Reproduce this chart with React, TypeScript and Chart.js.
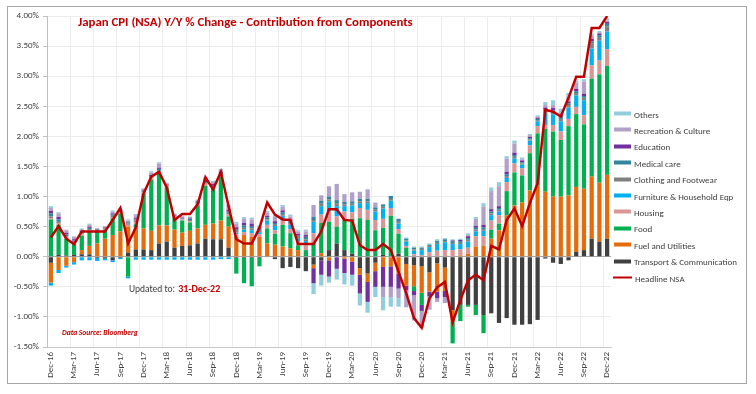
import React, { useEffect, useRef } from 'react';
import { Chart, registerables } from 'chart.js';

Chart.register(...registerables);

const months = [
  'Dec-16',
  'Jan-17','Feb-17','Mar-17','Apr-17','May-17','Jun-17','Jul-17','Aug-17','Sep-17','Oct-17','Nov-17','Dec-17',
  'Jan-18','Feb-18','Mar-18','Apr-18','May-18','Jun-18','Jul-18','Aug-18','Sep-18','Oct-18','Nov-18','Dec-18',
  'Jan-19','Feb-19','Mar-19','Apr-19','May-19','Jun-19','Jul-19','Aug-19','Sep-19','Oct-19','Nov-19','Dec-19',
  'Jan-20','Feb-20','Mar-20','Apr-20','May-20','Jun-20','Jul-20','Aug-20','Sep-20','Oct-20','Nov-20','Dec-20',
  'Jan-21','Feb-21','Mar-21','Apr-21','May-21','Jun-21','Jul-21','Aug-21','Sep-21','Oct-21','Nov-21','Dec-21',
  'Jan-22','Feb-22','Mar-22','Apr-22','May-22','Jun-22','Jul-22','Aug-22','Sep-22','Oct-22','Nov-22','Dec-22',
];

const transport = [
  -0.10, 0.03, 0.02, 0.03, 0.04, 0.04, -0.02, -0.03, -0.06, -0.02, 0.07, 0.12, 0.12,
  0.11, 0.22, 0.25, 0.15, 0.18, 0.19, 0.22, 0.30, 0.29, 0.29, 0.15, -0.02,
  -0.02, -0.02, -0.02, -0.01, -0.04, -0.19, -0.17, -0.19, -0.24, -0.13, -0.06, 0.11,
  0.22, 0.11, 0.05, -0.19, -0.28, -0.10, 0.03, 0.00, 0.05, -0.12, -0.14, -0.16,
  -0.26, -0.11, -0.18, -0.89, -0.80, -0.80, -0.80, -0.97, -0.94, -1.10, -1.02, -1.13,
  -1.13, -1.12, -1.05, -0.03, -0.10, -0.12, -0.06, 0.08, 0.11, 0.30, 0.25, 0.30,
];
const fuel = [
  -0.33, -0.22, -0.15, -0.09, 0.07, 0.14, 0.22, 0.30, 0.36, 0.42, 0.43, 0.36, 0.35,
  0.32, 0.30, 0.27, 0.30, 0.22, 0.24, 0.25, 0.23, 0.26, 0.31, 0.35, 0.33,
  0.36, 0.33, 0.33, 0.22, 0.20, 0.17, 0.14, 0.11, 0.00, -0.06, 0.06, -0.06,
  0.00, -0.03, -0.08, -0.11, -0.14, -0.14, -0.17, -0.16, -0.28, -0.36, -0.35, -0.44,
  -0.32, -0.47, -0.39, -0.19, 0.02, 0.05, 0.17, 0.18, 0.30, 0.44, 0.69, 0.85,
  0.90, 1.10, 1.18, 1.08, 1.00, 1.00, 1.02, 1.08, 1.02, 1.03, 0.98, 1.06,
];
const food = [
  0.62, 0.50, 0.28, 0.18, 0.24, 0.24, 0.20, 0.15, 0.28, 0.30, -0.33, 0.06, 0.58,
  0.85, 0.86, 0.63, 0.19, 0.20, 0.14, 0.38, 0.65, 0.58, 0.73, 0.17, -0.26,
  -0.42, -0.47, -0.14, 0.25, 0.18, 0.36, 0.25, 0.08, 0.11, 0.22, 0.50, 0.47,
  0.28, 0.50, 0.58, 0.64, 0.61, 0.44, 0.45, 0.68, 0.33, 0.15, -0.08, -0.20,
  0.00, 0.00, 0.00, -0.36, -0.27, -0.03, -0.17, -0.30, 0.15, 0.11, 0.40, 0.55,
  0.45, 0.62, 0.87, 1.05, 1.08, 0.94, 1.15, 1.21, 1.07, 1.63, 1.80, 1.81,
];
const housing = [
  0.02, 0.02, 0.02, 0.02, 0.02, 0.02, 0.01, 0.01, 0.02, 0.02, 0.03, 0.03, 0.02,
  0.02, 0.03, 0.02, 0.02, 0.02, 0.02, 0.02, 0.02, 0.02, 0.02, 0.03, 0.04,
  0.05, 0.06, 0.04, 0.06, 0.06, 0.07, 0.07, 0.06, 0.08, 0.17, 0.14, 0.17,
  0.17, 0.14, 0.11, 0.17, 0.17, 0.17, 0.15, 0.13, 0.08, 0.03, 0.04, 0.03,
  0.07, 0.10, 0.11, 0.11, 0.10, 0.10, 0.17, 0.16, 0.15, 0.14, 0.15, 0.15,
  0.12, 0.13, 0.12, 0.06, 0.11, 0.14, 0.12, 0.12, 0.15, 0.22, 0.23, 0.28,
];
const furniture = [
  -0.05, -0.05, -0.03, -0.04, -0.06, -0.06, -0.05, -0.03, -0.03, -0.02, -0.03, -0.05, -0.05,
  -0.05, -0.05, -0.05, -0.05, -0.05, -0.05, -0.05, -0.05, -0.05, -0.04, -0.04, 0.03,
  0.04, 0.05, 0.04, 0.07, 0.07, 0.08, 0.07, 0.06, 0.07, 0.19, 0.14, 0.17,
  0.17, 0.09, 0.11, 0.08, 0.11, 0.14, 0.17, 0.12, 0.09, 0.07, 0.06, 0.08,
  0.09, 0.11, 0.13, 0.10, 0.09, 0.10, 0.08, 0.09, 0.09, 0.06, 0.07, 0.08,
  0.06, 0.08, 0.08, 0.20, 0.17, 0.17, 0.19, 0.19, 0.25, 0.28, 0.33, 0.29,
];
const clothing = [
  0.03, 0.03, 0.02, 0.02, 0.02, 0.02, 0.01, 0.01, 0.02, 0.01, 0.02, 0.03, 0.02,
  0.02, 0.02, 0.01, 0.01, 0.01, 0.02, 0.02, 0.02, 0.02, 0.02, 0.03, 0.03,
  0.03, 0.03, 0.02, 0.02, 0.02, 0.03, 0.03, 0.02, 0.03, 0.03, 0.04, 0.03,
  0.05, 0.03, 0.03, 0.03, 0.03, 0.03, 0.03, 0.03, 0.03, 0.02, 0.02, 0.02,
  0.02, 0.02, 0.02, 0.02, 0.02, 0.03, 0.03, 0.03, 0.03, 0.03, 0.03, 0.03,
  0.02, 0.02, 0.02, 0.03, 0.04, 0.04, 0.04, 0.04, 0.04, 0.08, 0.06, 0.09,
];
const medical = [
  0.05, 0.04, 0.03, 0.02, 0.02, 0.02, 0.01, 0.01, 0.02, 0.01, 0.02, 0.02, 0.01,
  0.02, 0.03, 0.01, 0.01, 0.01, 0.02, 0.02, 0.02, 0.02, 0.02, 0.02, 0.03,
  0.04, 0.04, 0.02, 0.03, 0.03, 0.03, 0.03, 0.03, 0.04, 0.05, 0.05, 0.05,
  0.05, 0.04, 0.04, 0.04, 0.04, 0.04, 0.04, 0.05, 0.05, 0.03, 0.03, 0.02,
  0.02, 0.03, 0.03, 0.03, 0.03, 0.03, 0.03, 0.03, 0.03, 0.03, 0.03, 0.03,
  0.02, 0.02, 0.02, 0.03, 0.03, 0.03, 0.03, 0.03, 0.03, 0.04, 0.03, 0.04,
];
const education = [
  0.04, 0.04, 0.03, 0.02, 0.02, 0.02, 0.01, 0.01, 0.02, 0.01, 0.01, 0.02, 0.01,
  0.02, 0.02, 0.01, 0.01, 0.01, 0.01, 0.01, 0.02, 0.02, 0.02, 0.03, 0.03,
  0.04, 0.04, 0.02, 0.03, 0.03, 0.03, 0.03, 0.02, 0.03, -0.25, -0.24, -0.27,
  -0.20, -0.24, -0.22, -0.31, -0.33, -0.26, -0.33, -0.34, -0.25, -0.08, -0.07, -0.10,
  -0.08, -0.11, -0.10, 0.01, 0.02, 0.03, 0.03, 0.04, 0.04, 0.03, 0.04, 0.04,
  0.03, 0.02, 0.02, 0.03, 0.04, 0.03, 0.03, 0.04, 0.04, 0.04, 0.03, 0.03,
];
const recreation = [
  0.05, 0.06, 0.04, 0.04, 0.03, 0.03, 0.01, 0.01, 0.03, 0.02, 0.02, 0.05, 0.02,
  0.04, 0.07, 0.02, 0.02, 0.02, 0.02, 0.02, 0.04, 0.03, 0.03, 0.07, 0.06,
  0.07, 0.07, 0.03, 0.05, 0.07, 0.06, 0.05, 0.04, 0.06, 0.20, 0.09, 0.17,
  0.27, 0.13, 0.15, 0.12, 0.16, 0.08, -0.17, -0.17, -0.16, -0.28, -0.42, -0.28,
  -0.22, -0.06, -0.10, 0.00, 0.00, 0.02, 0.12, 0.30, 0.30, 0.33, 0.22, 0.15,
  0.02, 0.03, 0.02, 0.04, 0.05, 0.05, 0.08, 0.10, 0.20, 0.06, 0.02, 0.02,
];
const others = [
  0.03, 0.02, 0.01, 0.01, 0.01, 0.02, 0.01, 0.01, 0.02, 0.01, 0.02, 0.02, 0.01,
  0.02, 0.02, 0.01, 0.01, 0.01, 0.01, 0.01, 0.02, 0.02, 0.02, 0.02, 0.03,
  0.03, 0.03, 0.02, 0.03, 0.03, 0.03, 0.03, 0.02, 0.03, -0.18, -0.18, -0.10,
  -0.18, -0.19, -0.18, -0.20, -0.18, -0.17, -0.22, -0.16, -0.14, 0.02, 0.02, 0.02,
  0.02, 0.03, 0.02, 0.02, 0.02, 0.03, 0.03, 0.06, 0.06, 0.07, 0.04, 0.05,
  0.03, 0.02, 0.02, 0.05, 0.08, 0.06, 0.06, 0.04, 0.04, 0.03, 0.02, 0.04,
];
const headline = [
  0.32, 0.51, 0.30, 0.21, 0.42, 0.42, 0.42, 0.42, 0.61, 0.81, 0.22, 0.49, 1.05,
  1.33, 1.41, 1.15, 0.61, 0.71, 0.71, 0.87, 1.32, 1.12, 1.41, 0.84, 0.29,
  0.22, 0.22, 0.48, 0.90, 0.70, 0.62, 0.61, 0.21, 0.21, 0.21, 0.42, 0.79,
  0.79, 0.61, 0.60, 0.19, 0.11, 0.11, 0.21, 0.11, -0.25, -0.61, -1.02, -1.18,
  -0.69, -0.51, -0.42, -1.09, -0.72, -0.39, -0.30, -0.39, 0.18, 0.12, 0.61, 0.80,
  0.51, 0.89, 1.22, 2.44, 2.41, 2.33, 2.64, 2.99, 2.99, 3.80, 3.80, 4.00,
];

const yTicks = [-1.5, -1, -0.5, 0, 0.5, 1, 1.5, 2, 2.5, 3, 3.5, 4];

const barSeries = [
  { name: 'Transport & Communication', data: transport, color: '#404040' },
  { name: 'Fuel and Utilities', data: fuel, color: '#E46C0A' },
  { name: 'Food', data: food, color: '#00B050' },
  { name: 'Housing', data: housing, color: '#DA9694' },
  { name: 'Furniture & Household Eqp', data: furniture, color: '#00B0F0' },
  { name: 'Clothing and Footwear', data: clothing, color: '#808080' },
  { name: 'Medical care', data: medical, color: '#31859C' },
  { name: 'Education', data: education, color: '#7030A0' },
  { name: 'Recreation & Culture', data: recreation, color: '#B1A0C7' },
  { name: 'Others', data: others, color: '#92CDDC' },
];
const lineSeries = { name: 'Headline NSA', data: headline, color: '#C00000' };

const FONT = "Calibri, Carlito, Lato, 'Noto Sans', sans-serif";

export default function App() {
  const canvasRef = useRef<HTMLCanvasElement | null>(null);

  useEffect(() => {
    const canvas = canvasRef.current;
    if (!canvas) return;
    const chart = new Chart(canvas, {
      type: 'bar',
      data: {
        labels: months,
        datasets: [
          {
            type: 'line',
            label: lineSeries.name,
            data: lineSeries.data,
            borderColor: lineSeries.color,
            backgroundColor: lineSeries.color,
            borderWidth: 2.5,
            pointRadius: 0,
            tension: 0,
            order: 0,
            stack: 'headline',
          } as any,
          ...barSeries.map((s) => ({
            type: 'bar' as const,
            label: s.name,
            data: s.data,
            backgroundColor: s.color,
            borderWidth: 0,
            barPercentage: 0.55,
            categoryPercentage: 1,
            order: 1,
            stack: 'bars',
          })),
        ],
      },
      options: {
        responsive: false,
        animation: false,
        devicePixelRatio: 1,
        layout: { padding: { left: 0, top: 16, right: 145, bottom: 0 } },
        plugins: {
          legend: { display: false },
          tooltip: { enabled: false },
          title: { display: false },
        },
        scales: {
          x: {
            stacked: true,
            offset: true,
            grid: {
              offset: true,
              drawTicks: false,
              color: (ctx: any) => (ctx.index % 3 === 0 ? '#ECECEC' : 'rgba(0,0,0,0)'),
            },
            border: { display: true, color: '#C8C8C8' },
            ticks: {
              autoSkip: false,
              maxRotation: 90,
              minRotation: 90,
              padding: 5,
              color: '#404040',
              font: { family: FONT, size: 9 },
              callback: (_v: any, i: number) => (i % 3 === 0 ? months[i] : ''),
            },
            afterFit: (scale: any) => {
              scale.height = 47;
            },
          },
          y: {
            stacked: true,
            min: -1.5,
            max: 4,
            afterBuildTicks: (scale: any) => {
              scale.ticks = yTicks.map((v) => ({ value: v }));
            },
            grid: {
              drawTicks: true,
              tickLength: 4,
              tickColor: '#BFBFBF',
              color: (ctx: any) =>
                ctx.tick && Math.abs(ctx.tick.value) < 1e-9 ? '#A6A6A6' : '#ECECEC',
            },
            border: { display: true, color: '#BFBFBF' },
            ticks: {
              padding: 4,
              color: '#404040',
              font: { family: FONT, size: 9 },
              callback: (v: any) => Number(v).toFixed(2) + '%',
            },
            afterFit: (scale: any) => {
              scale.width = 47;
            },
          },
        },
      },
    });
    return () => chart.destroy();
  }, []);

  const legendItems = [...barSeries].reverse().map((s) => ({ name: s.name, color: s.color, line: false }));
  legendItems.push({ name: lineSeries.name, color: lineSeries.color, line: true });

  return (
    <div
      style={{
        position: 'absolute',
        left: 0,
        top: 0,
        width: 756,
        height: 394,
        background: '#ffffff',
        overflow: 'hidden',
        fontFamily: FONT,
      }}
    >
      <div
        style={{
          position: 'absolute',
          left: 7,
          top: 6,
          width: 740,
          height: 378,
          border: '1px solid #A6A6A6',
          boxSizing: 'border-box',
        }}
      />
      <canvas
        ref={canvasRef}
        width={756}
        height={394}
        style={{ position: 'absolute', left: 0, top: 0, width: 756, height: 394 }}
      />
      <div
        style={{
          position: 'absolute',
          left: 78,
          top: 21,
          transform: 'translateY(-50%)',
          color: '#C00000',
          fontWeight: 700,
          fontSize: 12.8,
          whiteSpace: 'nowrap',
        }}
      >
        Japan CPI (NSA) Y/Y % Change - Contribution from Components
      </div>
      <div
        style={{
          position: 'absolute',
          left: 129,
          top: 288,
          transform: 'translateY(-50%)',
          whiteSpace: 'nowrap',
          color: '#404040',
          fontSize: 9.5,
        }}
      >
        Updated to:{' '}
        <span style={{ color: '#C00000', fontWeight: 700, fontSize: 10, marginLeft: 1 }}>31-Dec-22</span>
      </div>
      <div
        style={{
          position: 'absolute',
          left: 62,
          top: 332,
          transform: 'translateY(-50%)',
          whiteSpace: 'nowrap',
          color: '#C00000',
          fontSize: 7.5,
          fontWeight: 700,
          fontStyle: 'italic',
        }}
      >
        Data Source: Bloomberg
      </div>
      {legendItems.map((it, i) => (
        <div
          key={it.name}
          style={{
            position: 'absolute',
            left: 613,
            top: 113.5 + i * 16.4,
            transform: 'translateY(-50%)',
            display: 'flex',
            alignItems: 'center',
            whiteSpace: 'nowrap',
            fontSize: 9,
            color: '#404040',
          }}
        >
          <span
            style={{
              display: 'inline-block',
              width: it.line ? 19 : 17,
              height: it.line ? 2.5 : 4,
              background: it.color,
              marginRight: 3,
              marginLeft: it.line ? 0 : 1,
            }}
          />
          <span>{it.name}</span>
        </div>
      ))}
    </div>
  );
}
